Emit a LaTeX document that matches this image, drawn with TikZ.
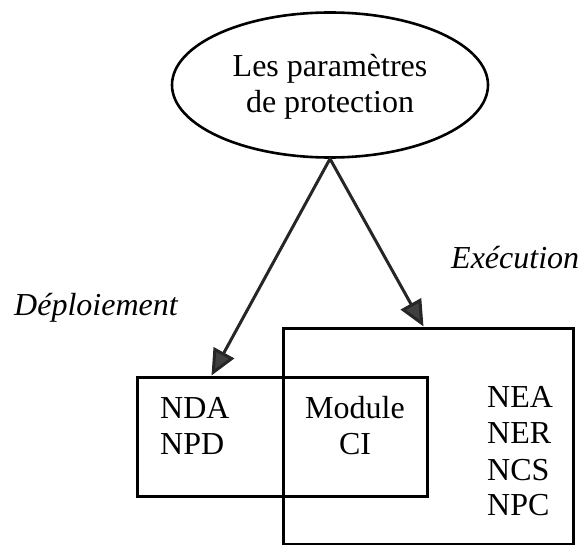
\documentclass[tikz,border=0pt]{standalone}
\usepackage{fontspec}
\setmainfont{Liberation Serif}
\usetikzlibrary{arrows.meta,shapes.geometric}

\tikzset{
  outline/.style={draw=black, line width=3pt},
  bubble/.style={outline, ellipse, line width=2.6pt, inner sep=0pt,
    minimum width=316pt, minimum height=145pt},
  framebox/.style={outline, rectangle, inner sep=0pt},
  txt/.style={inner sep=0pt, font=\fontsize{32}{36}\selectfont},
  lbl/.style={txt, font=\fontsize{32}{36}\selectfont\itshape},
  link/.style={line width=3pt, draw=black!85,
    -{Triangle[length=26pt,width=23pt,fill=black!75]}, shorten <=-1pt},
}

\begin{document}
\begin{tikzpicture}[x=1pt, y=-1pt]
  \useasboundingbox (0,0) rectangle (580,545);

  % source of the parameters
  \node[bubble] (params) at (330,85) {};
  \node[txt, anchor=base] (l1) at (330,77) {Les paramètres};
  \node[txt, anchor=base] (l2) at (330,113) {de protection};

  % execution and deployment frames (overlapping)
  \node[framebox, minimum width=290pt, minimum height=216pt] (exec) at (428,436) {};
  \node[framebox, minimum width=290pt, minimum height=119pt] (deploy) at (282,436.5) {};

  % contents
  \node[txt, anchor=base west] (nda) at (160,418) {NDA};
  \node[txt, anchor=base west] (npd) at (160,454) {NPD};
  \node[txt, anchor=base] (mod) at (355,418) {Module};
  \node[txt, anchor=base] (ci) at (355,454) {CI};
  \node[txt, anchor=base west] (nea) at (487,407) {NEA};
  \node[txt, anchor=base west] (ner) at (487,443) {NER};
  \node[txt, anchor=base west] (ncs) at (487,480) {NCS};
  \node[txt, anchor=base west] (npc) at (487,515) {NPC};

  % labels
  \node[lbl, anchor=base west] (dep) at (14,315) {Déploiement};
  \node[lbl, anchor=base west] (exe) at (451,268) {Exécution};

  % connectors
  \draw[link] (params.south) -- ([xshift=76pt]deploy.north west);
  \draw[link] (params.south) -- ([xshift=142pt]exec.north west);
\end{tikzpicture}
\end{document}
